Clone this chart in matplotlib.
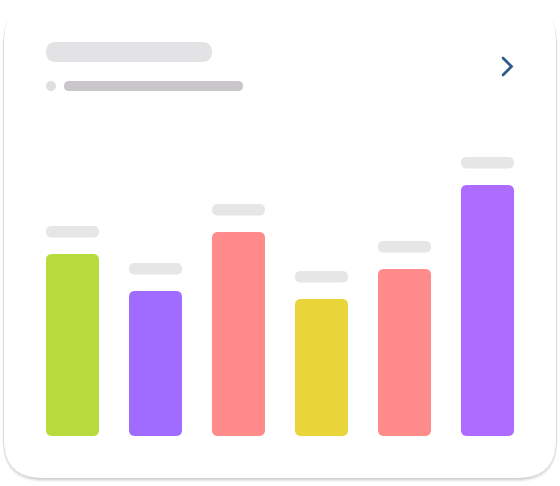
import matplotlib
matplotlib.use("Agg")
import matplotlib.pyplot as plt
from matplotlib.patches import FancyBboxPatch, Circle
import numpy as np

# Data
categories = ["A", "B", "C", "D", "E", "F"]
values = [182, 145, 204, 137, 167, 251]
bar_colors = ["#b8dc3e", "#a06cff", "#ff8b8b", "#e9d53a", "#ff8b8b", "#ad6cff"]

W, H = 560, 486
fig = plt.figure(figsize=(W / 100, H / 100), dpi=100)
fig.patch.set_facecolor("white")

# Background / card axes in pixel coordinates
bg = fig.add_axes([0, 0, 1, 1])
bg.set_xlim(0, W)
bg.set_ylim(H, 0)
bg.axis("off")

def pill(ax, x0, y0, x1, y1, color, r=None, z=2, **kw):
    h = y1 - y0
    if r is None:
        r = h / 2
    p = FancyBboxPatch((x0, y0), x1 - x0, h,
                       boxstyle=f"round,pad=0,rounding_size={r}",
                       fc=color, ec="none", zorder=z, **kw)
    ax.add_patch(p)
    return p

# shadow layers
for i, a in enumerate([0.035, 0.045, 0.055, 0.07]):
    d = 4 - i
    pill(bg, 4 - d * 0.35, 3 + 1, 556 + d * 0.35, 478 + d, "#000000", r=40, z=0, alpha=a)
pill(bg, 4, 3, 556, 478, "#ffffff", r=38, z=1)

# title placeholders
pill(bg, 46, 42, 212, 62, "#e3e3e5")
bg.add_patch(Circle((51, 86), 5, fc="#e0dfe0", ec="none", zorder=2))
pill(bg, 64, 81, 243, 91, "#c8c6c8")

# chevron
bg.plot([503, 511.5, 503], [58, 66.5, 75], color="#2d5b8a", lw=2.0,
        solid_capstyle="round", solid_joinstyle="miter", zorder=3)

# Bar axes: 1 y unit = 1 pixel, bottom at y=436 px
ax_left, ax_right = 31, 529
ax_bottom_px = 436
ax_top_px = 120
ax = fig.add_axes([ax_left / W, (H - ax_bottom_px) / H,
                   (ax_right - ax_left) / W, (ax_bottom_px - ax_top_px) / H])
ax.set_xlim(-0.5, len(categories) - 0.5)
ax.set_ylim(0, ax_bottom_px - ax_top_px)
ax.axis("off")
ax.patch.set_alpha(0)

x = np.arange(len(categories))
bars = ax.bar(x, values, width=53 / 83, color=bar_colors)

px_per_x = (ax_right - ax_left) / len(categories)  # pixels per x unit
aspect = px_per_x  # y unit (1 px) vs x unit
for rect, c in zip(bars, bar_colors):
    rect.set_visible(False)
    bx, bw, bh = rect.get_x(), rect.get_width(), rect.get_height()
    r_px = 6
    ax.add_patch(FancyBboxPatch((bx, 0), bw, bh,
                                boxstyle=f"round,pad=0,rounding_size={r_px / px_per_x}",
                                mutation_aspect=aspect, fc=c, ec="none", zorder=3))
    # value label placeholder
    lh = 11.5
    ax.add_patch(FancyBboxPatch((bx, bh + 16.5), bw, lh,
                                boxstyle=f"round,pad=0,rounding_size={(lh / 2) / px_per_x}",
                                mutation_aspect=aspect, fc="#e6e6e6", ec="none", zorder=3))

fig.savefig("out.png", dpi=100, facecolor="white")
